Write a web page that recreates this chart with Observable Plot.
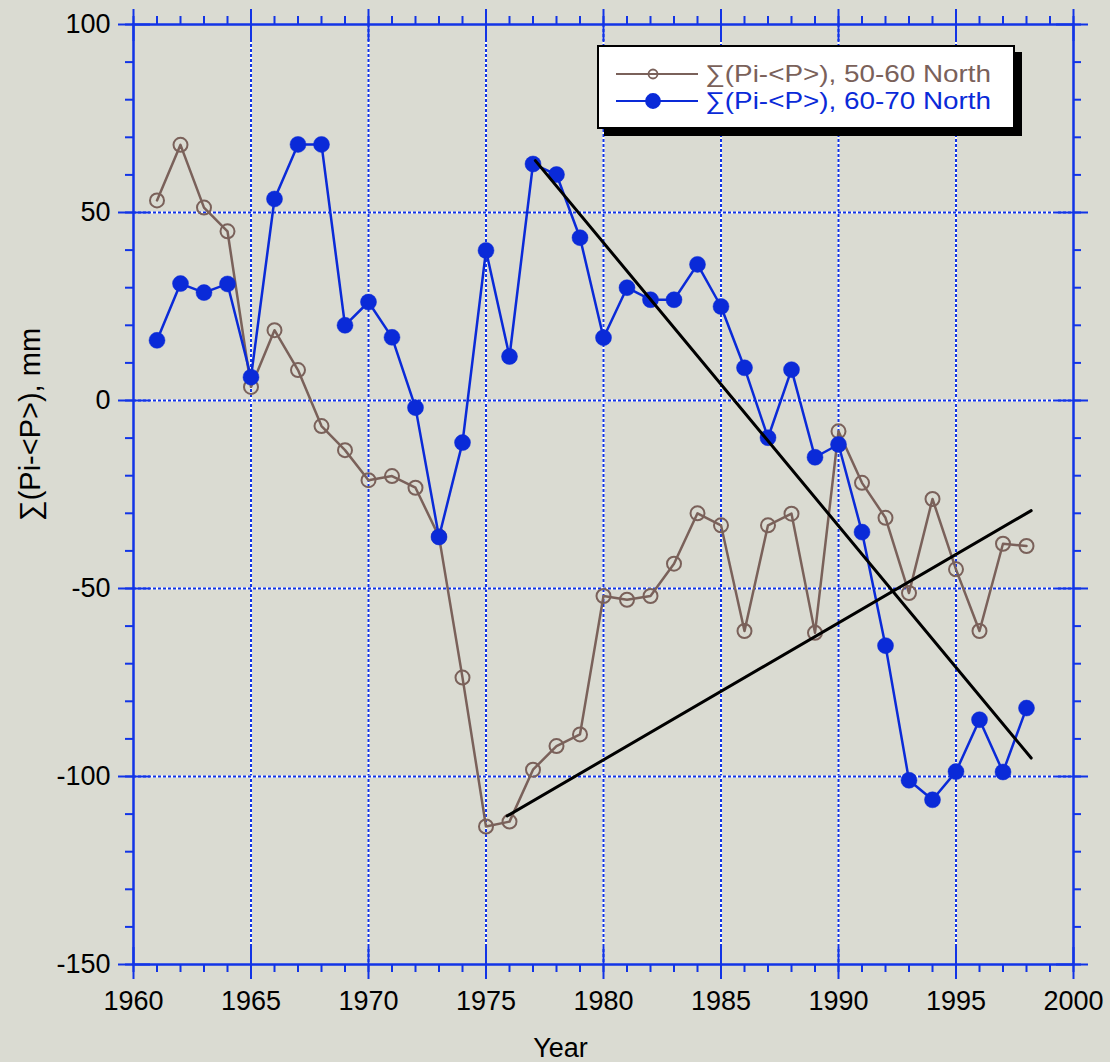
<!DOCTYPE html>
<html>
<head>
<meta charset="utf-8">
<script src="https://cdn.jsdelivr.net/npm/d3@7"></script>
<script src="https://cdn.jsdelivr.net/npm/@observablehq/plot@0.6"></script>
<style>
  html, body { margin: 0; padding: 0; background: #dadbd2; }
  #wrap { position: relative; width: 1110px; height: 1062px; }
  #legend { position: absolute; left: 597px; top: 45px; width: 414px; height: 80px;
            background: #fff; border: 2px solid #000; box-shadow: 7px 7px 0 #000;
            font-family: "Liberation Sans", Arial, sans-serif; font-size: 24px; }
  .lrow { position: absolute; left: 0; height: 28px; display: flex; align-items: center; white-space: nowrap; }
  .lrow svg { margin-left: 17px; margin-right: 7px; }
  .lrow span { display: inline-block; transform: scaleX(1.16); transform-origin: left center; }
</style>
</head>
<body>
<div id="wrap"></div>
<script>
// ---- data ----
const years = [1961,1962,1963,1964,1965,1966,1967,1968,1969,1970,
               1971,1972,1973,1974,1975,1976,1977,1978,1979,1980,
               1981,1982,1983,1984,1985,1986,1987,1988,1989,1990,
               1991,1992,1993,1994,1995,1996,1997,1998];
const north5060 = [53.2,68,51.3,45,3.6,18.7,8.1,-6.8,-13.2,-21.2,
                   -20.1,-23.2,-36.2,-73.7,-113.3,-112,-98.2,-91.9,-88.8,-52,
                   -53,-52,-43.4,-30,-33.2,-61.3,-33.2,-30.1,-61.8,-8.2,
                   -21.9,-31.2,-51.2,-26.2,-44.9,-61.3,-38.1,-38.7];
const north6070 = [16,31.1,28.7,31,6.2,53.6,68.1,68.1,20,26.2,
                   16.8,-1.9,-36.3,-11.2,39.9,11.7,62.9,60.1,43.3,16.7,
                   30,26.8,26.8,36.2,25,8.7,-9.9,8.2,-15.1,-11.7,
                   -35,-65.2,-101,-106.2,-98.7,-84.9,-98.8,-81.8];
const trendYears6070 = [1977.1, 1998.2];
const trendValues6070 = [63.8, -95.1];
const trendYears5060 = [1975.9, 1998.2];
const trendValues5060 = [-110.5, -29.3];
const xMajor = [1960,1965,1970,1975,1980,1985,1990,1995,2000];
const xMinor = [1960,1961,1962,1963,1964,1965,1966,1967,1968,1969,1970,1971,1972,1973,1974,1975,1976,1977,1978,1979,1980,
                1981,1982,1983,1984,1985,1986,1987,1988,1989,1990,1991,1992,1993,1994,1995,1996,1997,1998,1999,2000];
const yMajor = [-150,-100,-50,0,50,100];
const yMinor = [-150,-140,-130,-120,-110,-100,-90,-80,-70,-60,-50,-40,-30,-20,-10,0,10,20,30,40,50,60,70,80,90,100];
const xGrid = [1965,1970,1975,1980,1985,1990,1995];
const yGrid = [-100,-50,0,50];
const seriesLabels = ["\u2211(Pi-<P>), 50-60 North", "\u2211(Pi-<P>), 60-70 North"];
const yTitle = "\u2211(Pi-<P>), mm";
const xTitle = "Year";

// ---- build tables ----
const rows = years.map((y, i) => ({year: y, a: north5060[i], b: north6070[i]}));
const trendA = trendYears6070.map((y, i) => ({year: y, value: trendValues6070[i]}));
const trendB = trendYears5060.map((y, i) => ({year: y, value: trendValues5060[i]}));

const W = 1110, H = 1062, mL = 133, mR = 37, mT = 24, mB = 98;
const pw = W - mL - mR, ph = H - mT - mB;
const axisBlue = "#1234e6", blue = "#0a2ad8", brown = "#7a615a";
const font = "Liberation Sans, Arial, sans-serif";
const tk = {stroke: axisBlue, strokeWidth: 2};

const chart = Plot.plot({
  width: W, height: H,
  marginLeft: mL, marginRight: mR, marginTop: mT, marginBottom: mB,
  style: {background: "#dadbd2", fontFamily: font, overflow: "visible"},
  x: {domain: [1960, 2000], axis: null},
  y: {domain: [-150, 100], axis: null},
  marks: [
    // dotted grid
    Plot.ruleX(xGrid, {x: d => d, stroke: "#ffffff", strokeWidth: 2}),
    Plot.ruleX(xGrid, {x: d => d, stroke: axisBlue, strokeWidth: 2, strokeDasharray: "3,2"}),
    Plot.ruleY(yGrid, {y: d => d, stroke: "#ffffff", strokeWidth: 2}),
    Plot.ruleY(yGrid, {y: d => d, stroke: axisBlue, strokeWidth: 2, strokeDasharray: "3,2"}),
    // minor ticks (outward)
    Plot.ruleX(xMinor, {x: d => d, ...tk, insetTop: ph, insetBottom: -8}),
    Plot.ruleX(xMinor, {x: d => d, ...tk, insetTop: -8, insetBottom: ph}),
    Plot.ruleY(yMinor, {y: d => d, ...tk, insetLeft: -8, insetRight: pw}),
    Plot.ruleY(yMinor, {y: d => d, ...tk, insetLeft: pw, insetRight: -8}),
    // major ticks (crossing)
    Plot.ruleX(xMajor, {x: d => d, ...tk, insetTop: ph - 17, insetBottom: -15}),
    Plot.ruleX(xMajor, {x: d => d, ...tk, insetTop: -15, insetBottom: ph - 17}),
    Plot.ruleY(yMajor, {y: d => d, ...tk, insetLeft: -15, insetRight: pw - 17}),
    Plot.ruleY(yMajor, {y: d => d, ...tk, insetLeft: pw - 17, insetRight: -15}),
    Plot.frame({stroke: axisBlue, strokeWidth: 2.5}),
    // tick labels
    Plot.text(xMajor, {x: d => d, frameAnchor: "bottom", lineAnchor: "top", textAnchor: "middle", dy: 26,
                       text: d => String(d), fontSize: 27, fill: "#000", fontFamily: font}),
    Plot.text(yMajor, {y: d => d, frameAnchor: "left", lineAnchor: "middle", dx: -23, textAnchor: "end",
                       text: d => String(d), fontSize: 27, fill: "#000", fontFamily: font}),
    // axis titles
    Plot.text([yTitle], {frameAnchor: "left", textAnchor: "middle", lineAnchor: "middle", dx: -103, dy: -70,
                         rotate: -90, text: d => d, fontSize: 29, fill: "#000", fontFamily: font}),
    Plot.text([xTitle], {frameAnchor: "bottom", textAnchor: "middle", lineAnchor: "top", dx: -43, dy: 73,
                         text: d => d, fontSize: 27, fill: "#000", fontFamily: font}),
    // series
    Plot.line(rows, {x: "year", y: "a", stroke: brown, strokeWidth: 2.5}),
    Plot.dot(rows, {x: "year", y: "a", r: 7, stroke: brown, strokeWidth: 2, fill: "none"}),
    Plot.line(rows, {x: "year", y: "b", stroke: blue, strokeWidth: 2.5}),
    Plot.dot(rows, {x: "year", y: "b", r: 8, fill: blue, stroke: blue, strokeWidth: 0.5}),
    // trend lines
    Plot.line(trendA, {x: "year", y: "value", stroke: "#000", strokeWidth: 3}),
    Plot.line(trendB, {x: "year", y: "value", stroke: "#000", strokeWidth: 3})
  ]
});

const wrap = document.getElementById("wrap");
wrap.appendChild(chart);

// legend
const legend = document.createElement("div");
legend.id = "legend";
const specs = [
  {label: seriesLabels[0], color: brown, filled: false, top: 13},
  {label: seriesLabels[1], color: blue, filled: true, top: 40}
];
for (const s of specs) {
  const row = document.createElement("div");
  row.className = "lrow";
  row.style.top = s.top + "px";
  row.style.color = s.color;
  const sv = d3.create("svg").attr("width", 82).attr("height", 20);
  sv.append("line").attr("x1", 0).attr("x2", 82).attr("y1", 10).attr("y2", 10)
    .attr("stroke", s.color).attr("stroke-width", 2);
  sv.append("circle").attr("cx", 37).attr("cy", 10).attr("r", s.filled ? 7 : 4.5)
    .attr("fill", s.filled ? s.color : "none").attr("stroke", s.color).attr("stroke-width", 1.8);
  row.appendChild(sv.node());
  const t = document.createElement("span");
  t.textContent = s.label;
  row.appendChild(t);
  legend.appendChild(row);
}
wrap.appendChild(legend);
</script>
</body>
</html>
